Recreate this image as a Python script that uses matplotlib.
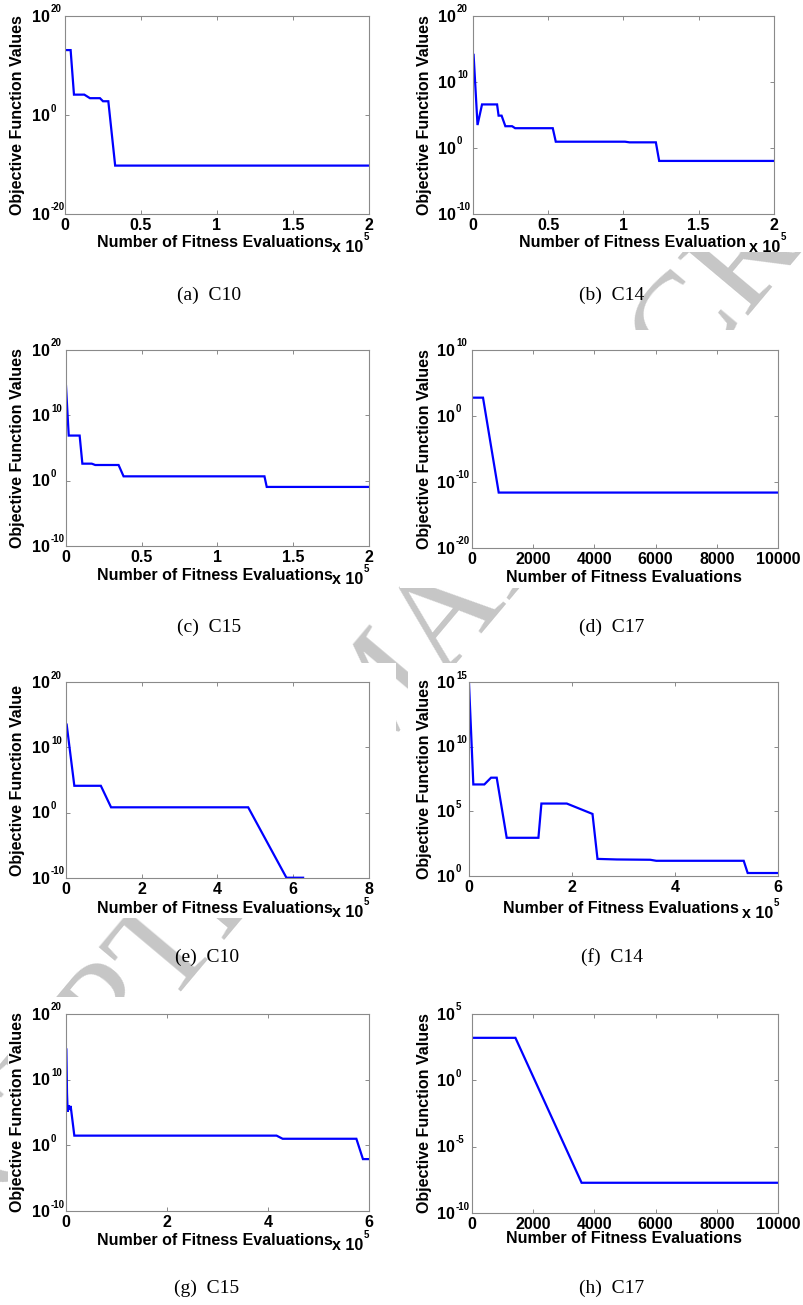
import matplotlib
matplotlib.use("Agg")
import matplotlib.pyplot as plt
from matplotlib.ticker import FixedLocator, NullLocator, NullFormatter
from matplotlib.patches import Rectangle
from matplotlib.transforms import offset_copy

plt.rcParams['font.family'] = ['Liberation Sans', 'DejaVu Sans']
plt.rcParams['axes.unicode_minus'] = False

# ---------------- data (x in units of 1e5 evaluations unless noted) ----------------
xa = [0, 0.037, 0.059, 0.127, 0.164, 0.23, 0.25, 0.285, 0.33, 2.0]
ya = [1.3e13, 1.3e13, 1.3e4, 1.3e4, 2.5e3, 2.5e3, 6e2, 6e2, 6e-11, 6e-11]

xb = [0.004, 0.03, 0.06, 0.16, 0.17, 0.19, 0.215, 0.26, 0.28, 0.53, 0.55, 1.01, 1.04, 1.215, 1.237, 1.996]
yb = [1.3e14, 3e3, 4e6, 4e6, 8e4, 8e4, 2e3, 2e3, 1e3, 1e3, 9.0, 9.0, 7.2, 7.2, 1.1e-2, 1.1e-2]

xc = [0, 0.018, 0.09, 0.108, 0.17, 0.193, 0.347, 0.38, 1.31, 1.325, 2.0]
yc = [3e14, 8e6, 8e6, 4e2, 4e2, 2.5e2, 2.5e2, 4.6, 4.6, 0.11, 0.11]

xd = [0, 360, 873, 10000]          # evaluations
yd = [6e2, 6e2, 2.5e-12, 2.5e-12]

xe = [0.018, 0.22, 0.92, 1.19, 4.81, 5.82, 6.26]
ye = [3e13, 1.3e4, 1.3e4, 6.6, 6.6, 1.1e-10, 1.1e-10]

xf = [0.0, 0.084, 0.298, 0.428, 0.538, 0.732, 1.348, 1.406, 1.899, 2.398, 2.495, 2.871, 3.519, 3.636, 5.334, 5.411, 6.0]
yf = [8e14, 1.2e7, 1.2e7, 4e7, 4e7, 9e2, 9e2, 4e5, 4e5, 6.3e4, 21, 19, 18, 15, 15, 1.7, 1.7]

xg = [0.007, 0.02, 0.033, 0.053, 0.072, 0.092, 0.165, 4.17, 4.29, 5.75, 5.88, 6.0]
yg = [4e14, 8e7, 1.3e5, 1.3e6, 2.5e5, 1e6, 30, 30, 10, 10, 8e-3, 8e-3]

xh = [0, 1419, 3581, 10000]        # evaluations
yh = [1.6e3, 1.6e3, 1.9e-8, 1.9e-8]

ticks_2 = [0, 0.5, 1, 1.5, 2]
ticklabels_2 = ['0', '0.5', '1', '1.5', '2']
ticks_8 = [0, 2, 4, 6, 8]
ticks_6 = [0, 2, 4, 6]
ticks_10k = [0, 2000, 4000, 6000, 8000, 10000]

yexp_a = [-20, 0, 20]
yexp_b = [-10, 0, 10, 20]
yexp_d = [-20, -10, 0, 10]
yexp_f = [0, 5, 10, 15]
yexp_h = [-10, -5, 0, 5]

captions = ['(a)  C10', '(b)  C14', '(c)  C15', '(d)  C17',
            '(e)  C10', '(f)  C14', '(g)  C15', '(h)  C17']
xlabel_s = 'Number of Fitness Evaluations'
xlabel_b = 'Number of Fitness Evaluation'
ylabel_s = 'Objective Function Values'
ylabel_e = 'Objective Function Value'
mult_base = 'x 10'
mult_exp = '5'

# ---------------- layout (pixels) ----------------
W, H = 804, 1305
fig = plt.figure(figsize=(W / 100, H / 100), dpi=100)
fig.patch.set_facecolor('white')

def fx(p):
    return p / W

def fy(p):
    return 1 - p / H

# watermark behind everything
fig.text(fx(384), fy(698), 'ACCEPTED MANUSCRIPT', rotation=50, rotation_mode='anchor',
         ha='center', va='center', fontsize=100, family='Liberation Serif',
         color='#c6c6c6', zorder=-5)

# white image areas of each panel (cover the watermark)
masks = [(0, 0, 392, 256), (400, 0, 804, 252), (0, 330, 392, 588), (400, 330, 804, 588),
         (0, 663, 396, 918), (408, 663, 804, 918), (8, 997, 396, 1252), (408, 997, 804, 1252)]
for (l, t, r, b) in masks:
    fig.patches.append(Rectangle((fx(l), fy(b)), (r - l) / W, (b - t) / H,
                                 transform=fig.transFigure, facecolor='white',
                                 edgecolor='none', zorder=-4))

panels = [
    dict(x=xa, y=ya, box=(65, 16, 369, 214), xlim=(0, 2), xt=ticks_2, xtl=ticklabels_2,
         ylim=(1e-20, 1e20), yexp=yexp_a, xl=xlabel_s, xlc=(215, 247), ylx=22, base_r=50,
         mult=(363, 252), cap=(209, 295)),
    dict(x=xb, y=yb, box=(473, 16, 774, 214), xlim=(0, 2), xt=ticks_2, xtl=ticklabels_2,
         ylim=(1e-10, 1e20), yexp=yexp_b, xl=xlabel_b, xlc=(633, 247), ylx=429, base_r=456,
         mult=(780, 252), cap=(612, 295)),
    dict(x=xc, y=yc, box=(66, 350, 369, 546), xlim=(0, 2), xt=ticks_2, xtl=ticklabels_2,
         ylim=(1e-10, 1e20), yexp=yexp_b, xl=xlabel_s, xlc=(215, 580), ylx=22, base_r=50,
         mult=(363, 584), cap=(209, 627)),
    dict(x=xd, y=yd, box=(472, 350, 778, 548), xlim=(0, 10000), xt=ticks_10k,
         xtl=[str(v) for v in ticks_10k], ylim=(1e-20, 1e10), yexp=yexp_d, xl=xlabel_s,
         xlc=(624, 582), ylx=429, base_r=455, mult=None, cap=(612, 627)),
    dict(x=xe, y=ye, box=(66, 682, 369, 878), xlim=(0, 8), xt=ticks_8,
         xtl=[str(v) for v in ticks_8], ylim=(1e-10, 1e20), yexp=yexp_b, xl=xlabel_s,
         xlc=(215, 913), ylx=22, base_r=50, mult=(363, 917), cap=(207, 957)),
    dict(x=xf, y=yf, box=(469, 682, 778, 876), xlim=(0, 6), xt=ticks_6,
         xtl=[str(v) for v in ticks_6], ylim=(1e0, 1e15), yexp=yexp_f, xl=xlabel_s,
         xlc=(621, 913), ylx=429, base_r=455, mult=(773, 918), cap=(612, 957)),
    dict(x=xg, y=yg, box=(66, 1014, 369, 1211), xlim=(0, 6), xt=ticks_6,
         xtl=[str(v) for v in ticks_6], ylim=(1e-10, 1e20), yexp=yexp_b, xl=xlabel_s,
         xlc=(215, 1245), ylx=22, base_r=50, mult=(363, 1250), cap=(207, 1288)),
    dict(x=xh, y=yh, box=(472, 1014, 778, 1213), xlim=(0, 10000), xt=ticks_10k,
         xtl=[str(v) for v in ticks_10k], ylim=(1e-10, 1e5), yexp=yexp_h, xl=xlabel_s,
         xlc=(624, 1243), ylx=429, base_r=455, mult=None, cap=(612, 1288)),
]
ylabels = [ylabel_s, ylabel_s, ylabel_s, ylabel_s, ylabel_e, ylabel_s, ylabel_s, ylabel_s]

FS = 11.5         # main font size (pt)
FS_EXP = 7.0      # exponent font size (pt)
SPINE = '#8a8a8a'
cap_px = 0.716 * FS * 100 / 72   # cap height in pixels

for i, p in enumerate(panels):
    l, t, r, b = p['box']
    w, h = r - l, b - t
    ax = fig.add_axes([fx(l), fy(b), w / W, h / H])
    ax.set_facecolor('white')
    ax.plot(p['x'], p['y'], color='#0000ff', lw=1.6, solid_joinstyle='miter')
    ax.set_yscale('log')
    ax.set_xlim(*p['xlim'])
    ax.set_ylim(*p['ylim'])
    ax.xaxis.set_major_locator(FixedLocator(p['xt']))
    ax.set_xticklabels(p['xtl'])
    ax.xaxis.set_minor_locator(NullLocator())
    yt = [10.0 ** e for e in p['yexp']]
    ax.yaxis.set_major_locator(FixedLocator(yt))
    ax.yaxis.set_minor_locator(NullLocator())
    ax.yaxis.set_major_formatter(NullFormatter())
    for s in ax.spines.values():
        s.set_color(SPINE)
        s.set_linewidth(0.8)
    ax.tick_params(which='both', direction='in', length=2.6, width=0.7, color=SPINE,
                   top=True, right=True, labelcolor='black', labelsize=FS)
    ax.tick_params(axis='x', pad=2.8)
    for lbl in ax.get_xticklabels():
        lbl.set_fontweight('bold')

    # y tick labels: base "10" plus small raised exponent (MATLAB style)
    ytr = ax.get_yaxis_transform()
    bx = (p['base_r'] - l) / w
    base_tr = offset_copy(ytr, fig=fig, x=0, y=-cap_px / 2, units='dots')
    exp_tr = offset_copy(ytr, fig=fig, x=1, y=3.5, units='dots')
    for e, v in zip(p['yexp'], yt):
        ax.text(bx, v, '10', transform=base_tr, ha='right', va='baseline',
                fontsize=FS, fontweight='bold', clip_on=False)
        ax.text(bx, v, str(e), transform=exp_tr, ha='left', va='baseline',
                fontsize=FS_EXP, fontweight='bold', clip_on=False)

    ax.set_xlabel(p['xl'], fontsize=FS, fontweight='bold', va='baseline')
    ax.xaxis.set_label_coords((p['xlc'][0] - l) / w, (b - p['xlc'][1]) / h)
    ax.set_ylabel(ylabels[i], fontsize=FS, fontweight='bold', va='baseline')
    ax.yaxis.set_label_coords((p['ylx'] - l) / w, 0.5)

    if p['mult'] is not None:
        mx, my = p['mult']
        ax.text((mx - l) / w, (b - my) / h, mult_base, transform=ax.transAxes,
                ha='right', va='baseline', fontsize=FS, fontweight='bold')
        ax.text((mx + 1 - l) / w, (b - my + 12) / h, mult_exp, transform=ax.transAxes,
                ha='left', va='baseline', fontsize=FS_EXP, fontweight='bold')

    fig.text(fx(p['cap'][0]), fy(p['cap'][1]), captions[i], ha='center', va='center',
             fontsize=14, family='Liberation Serif', zorder=3)

fig.savefig('out.png', dpi=100, facecolor='white')
